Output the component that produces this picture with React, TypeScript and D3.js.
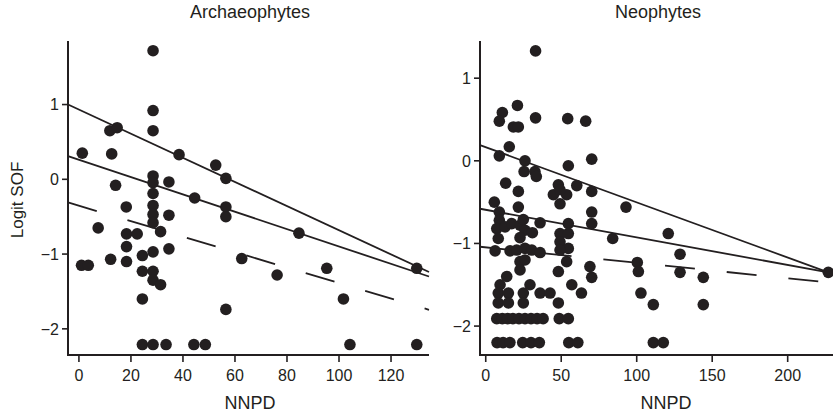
import React from "react";
import * as d3 from "d3";

// Archaeophytes: NNPD vs logit SOF
const archPoints: [number, number][] = [
  [28.5, 1.72], [1.3, 0.35], [11.9, 0.65], [14.7, 0.69], [12.6, 0.34],
  [28.5, 0.92], [28.5, 0.65], [38.5, 0.33], [28.5, 0.045], [28.5, -0.045],
  [34.6, -0.035], [14.1, -0.08], [28.5, -0.19], [44.5, -0.25], [18.2, -0.37],
  [28.5, -0.35], [28.5, -0.47], [34.6, -0.48], [28.5, -0.58], [52.6, 0.19],
  [56.5, 0.013], [56.5, -0.37], [56.5, -0.5], [84.6, -0.72], [7.4, -0.65],
  [18.3, -0.73], [22.4, -0.73], [31.4, -0.7], [18.3, -0.9], [34.6, -0.93],
  [28.5, -0.97], [24.4, -1.02], [1.0, -1.15], [3.6, -1.15], [12.2, -1.07],
  [18.3, -1.1], [24.4, -1.23], [28.5, -1.23], [28.5, -1.35], [31.4, -1.41],
  [24.4, -1.6], [62.6, -1.06], [76.2, -1.28], [95.3, -1.19], [101.7, -1.6],
  [56.5, -1.74], [129.9, -1.19],
  [24.4, -2.21], [28.5, -2.21], [33.5, -2.21], [44.2, -2.21], [48.6, -2.21],
  [104.2, -2.21], [129.9, -2.21],
];

// fitted lines: [start, end] in data units (solid, solid, dashed)
const archFits: [number, number][][] = [
  [[-4.2, 1.0], [134.6, -1.24]],
  [[-4.2, 0.31], [134.6, -1.3]],
  [[-4.2, -0.31], [134.6, -1.745]],
];

const archXTicks = [0, 20, 40, 60, 80, 100, 120];
const yTicks = [-2, -1, 0, 1];

// Neophytes
const neoPoints: [number, number][] = [
  [33, 1.33], [21, 0.67], [11, 0.585], [9, 0.48], [18.3, 0.41], [21.6, 0.41],
  [33, 0.52], [54.3, 0.51], [66.2, 0.48], [15.6, 0.17], [9, 0.06], [26, 0.0],
  [70.2, 0.02], [54.7, -0.06], [25.4, -0.13], [32.6, -0.13], [33.5, -0.19],
  [13.2, -0.27], [48.1, -0.29], [60.3, -0.3], [21.6, -0.37], [70.2, -0.37],
  [44.8, -0.41], [53.6, -0.41], [49.2, -0.35], [49.2, -0.52], [5.7, -0.5],
  [21.6, -0.56], [70.2, -0.62], [9, -0.62],
  [9, -0.72], [7.3, -0.82], [12.8, -0.8], [17.2, -0.76], [22.7, -0.78],
  [24.9, -0.71], [26, -0.84], [30.9, -0.87], [8.3, -0.94], [22.7, -0.93],
  [36, -0.75], [54.7, -0.76], [49.2, -0.88], [54.7, -0.88], [49.2, -0.98],
  [54.7, -1.06], [49.2, -1.08], [70.2, -0.76],
  [6.2, -1.09], [16.1, -1.09], [20.5, -1.08], [26, -1.06], [30.5, -1.08], [36, -1.11],
  [22.7, -1.22], [26, -1.2], [22.7, -1.32], [53.6, -1.22], [48.1, -1.34],
  [69, -1.28], [13.9, -1.4], [70.2, -1.41],
  [9.5, -1.5], [8.3, -1.6], [15, -1.6], [29.3, -1.5], [24.9, -1.6], [36, -1.6],
  [42.6, -1.6], [57, -1.5], [63.4, -1.6], [8.3, -1.72], [15, -1.72],
  [24.9, -1.72], [48.1, -1.72],
  [7.3, -1.91], [11, -1.91], [14.5, -1.91], [18, -1.91], [22, -1.91], [26, -1.91],
  [30, -1.91], [34, -1.91], [38, -1.91], [48.7, -1.91], [54.7, -1.91],
  [7.5, -2.2], [11.5, -2.2], [16, -2.2], [24.5, -2.2], [30, -2.2], [35.5, -2.2],
  [55, -2.2], [61, -2.2],
  [84.1, -0.94], [92.9, -0.56], [120.9, -0.88], [128.7, -1.13], [100.4, -1.23],
  [101.1, -1.34], [128.7, -1.35], [144.1, -1.41], [102.8, -1.6], [111, -1.74],
  [144.1, -1.74], [111, -2.2], [117.6, -2.2], [226.9, -1.35],
];

const neoFits: [number, number][][] = [
  [[-3.8, 0.19], [226.9, -1.35]],
  [[-3.8, -0.58], [226.9, -1.35]],
  [[-3.8, -1.04], [221, -1.46]],
];

const neoXTicks = [0, 50, 100, 150, 200];

const INK = "#231f20";
const FONT = "'Liberation Sans', Arial, Helvetica, sans-serif";

type PanelProps = {
  title: string;
  titleX: number;
  labelX: number;
  points: [number, number][];
  fits: [number, number][][];
  xTicks: number[];
  xDomain: [number, number];
  yDomain: [number, number];
  left: number;
  right: number;
};

function Panel({ title, titleX, labelX, points, fits, xTicks, xDomain, yDomain, left, right }: PanelProps) {
  const top = 41;
  const bottom = 355;
  const x = d3.scaleLinear().domain(xDomain).range([left, right]);
  const y = d3.scaleLinear().domain(yDomain).range([bottom, top]);
  const line = d3
    .line<[number, number]>()
    .x((d) => x(d[0]))
    .y((d) => y(d[1]));
  const fmt = (v: number) => (v < 0 ? "\u2212" + Math.abs(v) : String(v));

  return (
    <g>
      <text x={titleX} y={18} textAnchor="middle" fontSize={18} fill={INK}>
        {title}
      </text>
      {fits.map((f, i) => (
        <path
          key={i}
          d={line(f) || ""}
          fill="none"
          stroke={INK}
          strokeWidth={1.8}
          strokeDasharray={i === 2 ? "30 32" : undefined}
        />
      ))}
      {points.map((p, i) => (
        <circle key={i} cx={x(p[0])} cy={y(p[1])} r={5.8} fill={INK} />
      ))}
      {/* axes */}
      <line x1={left} x2={left} y1={top} y2={bottom + 1} stroke={INK} strokeWidth={2} />
      <line x1={left - 1} x2={right} y1={bottom} y2={bottom} stroke={INK} strokeWidth={2} />
      {yTicks.map((t) => (
        <g key={t}>
          <line x1={left - 6} x2={left} y1={y(t)} y2={y(t)} stroke={INK} strokeWidth={1.6} />
          <text x={left - 9} y={y(t)} dy="0.36em" textAnchor="end" fontSize={16} fill={INK}>
            {fmt(t)}
          </text>
        </g>
      ))}
      {xTicks.map((t) => (
        <g key={t}>
          <line x1={x(t)} x2={x(t)} y1={bottom} y2={bottom + 7} stroke={INK} strokeWidth={1.6} />
          <text x={x(t)} y={381} textAnchor="middle" fontSize={16} fill={INK}>
            {t}
          </text>
        </g>
      ))}
      <text x={labelX} y={409} textAnchor="middle" fontSize={18} fill={INK}>
        NNPD
      </text>
    </g>
  );
}

export default function App() {
  return (
    <svg
      width={833}
      height={412}
      style={{ position: "absolute", left: 0, top: 0, background: "#fff" }}
      fontFamily={FONT}
    >
      <text
        transform="translate(23,200) rotate(-90)"
        textAnchor="middle"
        fontSize={17}
        fill={INK}
      >
        Logit SOF
      </text>
      <Panel
        title="Archaeophytes"
        titleX={250}
        labelX={250}
        points={archPoints}
        fits={archFits}
        xTicks={archXTicks}
        xDomain={[-4.2, 134.6]}
        yDomain={[-2.35, 1.85]}
        left={68}
        right={429}
      />
      <Panel
        title="Neophytes"
        titleX={658}
        labelX={666}
        points={neoPoints}
        fits={neoFits}
        xTicks={neoXTicks}
        xDomain={[-3.8, 242.6]}
        yDomain={[-2.35, 1.45]}
        left={480}
        right={852}
      />
    </svg>
  );
}
